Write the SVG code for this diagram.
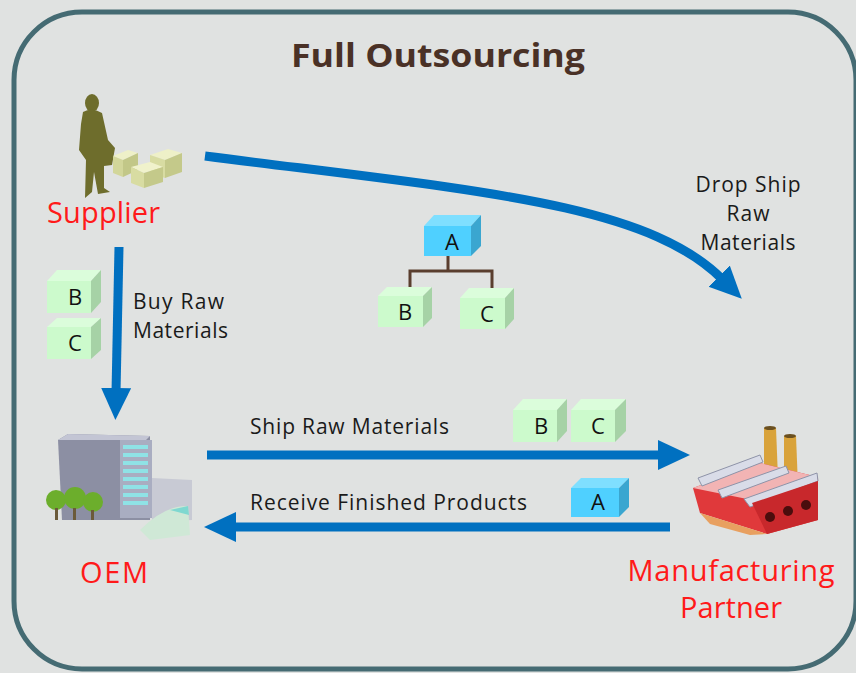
<svg xmlns="http://www.w3.org/2000/svg" width="856" height="673" viewBox="0 0 856 673">
  <style>
    .lbl { font-family: "Open Sans", "Noto Sans", sans-serif; font-size: 21px; fill: #1a1a1a; }
    .name { font-family: "Open Sans", "Noto Sans", sans-serif; font-size: 29px; fill: #ff1a1a; }
    .cube { font-family: "Open Sans", "Noto Sans", sans-serif; font-size: 22px; fill: #111; text-anchor: middle; }
    .flow { fill: none; stroke: #0070c0; stroke-width: 9; }
    .gf { fill: #ccfacc; } .gs { fill: #a6d2a6; } .gt { fill: #dbfddb; }
    .bf { fill: #4fd0ff; } .bs { fill: #3aa6d0; } .bt { fill: #7fdfff; }
    .sky { fill: #d9dce8; } .skyl { stroke: #8e93a8; stroke-width: 1; }
  </style>
  <defs>
    <marker id="head" markerUnits="userSpaceOnUse" markerWidth="34" markerHeight="34" refX="4" refY="15" orient="auto">
      <path d="M0,0 L32,15 L0,30 Z" fill="#0070c0"/>
    </marker>
  </defs>

  <!-- background and frame -->
  <rect x="0" y="0" width="856" height="673" fill="#e0e2e1"/>
  <rect x="14" y="12" width="842" height="657" rx="68" ry="68" fill="#e0e2e1" stroke="#456b73" stroke-width="5"/>

  <text x="438" y="67" text-anchor="middle" font-family="'Open Sans', 'Noto Sans', sans-serif" font-weight="bold" font-size="32" fill="#4a3126" textLength="294" lengthAdjust="spacingAndGlyphs">Full Outsourcing</text>

  <!-- connectors -->
  <g id="connectors">
    <path class="flow" d="M205,156 C 470,190 645,202 722,279" marker-end="url(#head)"/>
    <path class="flow" d="M119,247 L116,392" marker-end="url(#head)"/>
    <path class="flow" d="M207,455 L662,455" marker-end="url(#head)"/>
    <path class="flow" d="M670,527 L232,527" marker-end="url(#head)"/>
    <text class="lbl" x="133" y="309" textLength="91">Buy Raw</text>
    <text class="lbl" x="133" y="338" textLength="95">Materials</text>
    <text class="lbl" x="748" y="192" text-anchor="middle" textLength="105">Drop Ship</text>
    <text class="lbl" x="748" y="221" text-anchor="middle" textLength="43">Raw</text>
    <text class="lbl" x="748" y="250" text-anchor="middle" textLength="95">Materials</text>
    <text class="lbl" x="250" y="434" textLength="199">Ship Raw Materials</text>
    <text class="lbl" x="250" y="510" textLength="277">Receive Finished Products</text>
  </g>

  <!-- supplier -->
  <g id="supplier">
    <g fill="#6e6d2c">
      <ellipse cx="92" cy="103" rx="7" ry="9"/>
      <path d="M83,112 Q92,107 102,113 L108,140 L115,148 L112,165 L104,166 L104,188 L110,192 L98,194 L94,172 L92,192 L85,198 L86,160 L79,150 L81,124 Z"/>
    </g>
    <g>
      <path d="M113,156 L128,150 L138,153 L123,160 Z" fill="#eef0c8"/>
      <path d="M113,156 L123,160 L123,177 L113,173 Z" fill="#d2d69a"/>
      <path d="M123,160 L138,153 L138,170 L123,177 Z" fill="#c2c788"/>
      <path d="M150,155 L168,149 L182,153 L165,160 Z" fill="#eef0c8"/>
      <path d="M150,155 L165,160 L165,178 L150,173 Z" fill="#d8dca2"/>
      <path d="M165,160 L182,153 L182,172 L165,178 Z" fill="#c4c98a"/>
      <path d="M131,167 L150,162 L163,167 L144,173 Z" fill="#f0f2cc"/>
      <path d="M131,167 L144,173 L144,188 L131,183 Z" fill="#d8dca2"/>
      <path d="M144,173 L163,167 L163,182 L144,188 Z" fill="#c4c98a"/>
    </g>
    <text class="name" x="47" y="223" textLength="113">Supplier</text>
  </g>

  <!-- material tree -->
  <g id="bom">
    <path d="M448,256 L448,271 M410,287 L410,271 L492,271 L492,289" fill="none" stroke="#5a3e2e" stroke-width="3"/>
    <g id="bom-a">
      <path class="bt" d="M424,226 L434,215 L481,215 L471,226 Z"/>
      <path class="bs" d="M471,226 L481,215 L481,246 L471,256 Z"/>
      <rect class="bf" x="424" y="226" width="47" height="30"/>
      <text class="cube" x="452" y="250">A</text>
    </g>
    <g id="bom-b">
      <path class="gt" d="M378,296 L387,287 L432,287 L423,296 Z"/>
      <path class="gs" d="M423,296 L432,287 L432,318 L423,327 Z"/>
      <rect class="gf" x="378" y="296" width="45" height="31"/>
      <text class="cube" x="405" y="320">B</text>
    </g>
    <g id="bom-c">
      <path class="gt" d="M460,298 L469,288 L514,288 L505,298 Z"/>
      <path class="gs" d="M505,298 L514,288 L514,319 L505,329 Z"/>
      <rect class="gf" x="460" y="298" width="45" height="31"/>
      <text class="cube" x="487" y="322">C</text>
    </g>
  </g>

  <!-- parts bought from supplier -->
  <g id="buy-parts">
    <g>
      <path class="gt" d="M47,281 L57,270 L101,270 L91,281 Z"/>
      <path class="gs" d="M91,281 L101,270 L101,302 L91,313 Z"/>
      <rect class="gf" x="47" y="281" width="44" height="32"/>
      <text class="cube" x="75" y="305">B</text>
    </g>
    <g>
      <path class="gt" d="M47,327 L57,318 L101,318 L91,327 Z"/>
      <path class="gs" d="M91,327 L101,318 L101,350 L91,359 Z"/>
      <rect class="gf" x="47" y="327" width="44" height="32"/>
      <text class="cube" x="75" y="351">C</text>
    </g>
  </g>

  <!-- parts shipped to partner -->
  <g id="ship-parts">
    <g>
      <path class="gt" d="M513,410 L523,399 L567,399 L557,410 Z"/>
      <path class="gs" d="M557,410 L567,399 L567,431 L557,442 Z"/>
      <rect class="gf" x="513" y="410" width="44" height="32"/>
      <text class="cube" x="541" y="434">B</text>
    </g>
    <g>
      <path class="gt" d="M571,410 L581,399 L626,399 L615,410 Z"/>
      <path class="gs" d="M615,410 L626,399 L626,431 L615,442 Z"/>
      <rect class="gf" x="571" y="410" width="44" height="32"/>
      <text class="cube" x="598" y="434">C</text>
    </g>
  </g>

  <!-- finished product returned -->
  <g id="product">
    <path class="bt" d="M571,488 L581,478 L629,478 L619,488 Z"/>
    <path class="bs" d="M619,488 L629,478 L629,507 L619,517 Z"/>
    <rect class="bf" x="571" y="488" width="48" height="29"/>
    <text class="cube" x="598" y="510">A</text>
  </g>

  <!-- OEM -->
  <g id="oem">
    <path d="M58,440 L68,434 L150,436 L150,520 L62,520 Z" fill="#8c8fa3"/>
    <path d="M58,440 L68,434 L150,436 L146,440 Z" fill="#c3c5d4"/>
    <rect x="120" y="440" width="32" height="78" fill="#a9adc1"/>
    <g fill="#8fe2e6">
      <rect x="123" y="445" width="25" height="4"/>
      <rect x="123" y="453" width="25" height="4"/>
      <rect x="123" y="461" width="25" height="4"/>
      <rect x="123" y="469" width="25" height="4"/>
      <rect x="123" y="477" width="25" height="4"/>
      <rect x="123" y="485" width="25" height="4"/>
      <rect x="123" y="493" width="25" height="4"/>
      <rect x="123" y="501" width="25" height="4"/>
    </g>
    <path d="M152,478 L192,480 L192,520 L152,522 Z" fill="#c8cad4"/>
    <path d="M140,530 Q165,505 188,506 L190,535 L150,540 Z" fill="#cfe8d6"/>
    <path d="M170,510 L188,506 L189,515 Z" fill="#7fd8d0"/>
    <g fill="#6cae2c">
      <circle cx="56" cy="500" r="10"/>
      <circle cx="75" cy="498" r="11"/>
      <circle cx="93" cy="502" r="10"/>
    </g>
    <g fill="#6b5a3a">
      <rect x="55" y="508" width="3" height="12"/>
      <rect x="73" y="508" width="3" height="12"/>
      <rect x="91" y="510" width="3" height="10"/>
    </g>
    <text class="name" x="80" y="583" textLength="68">OEM</text>
  </g>

  <!-- manufacturing partner -->
  <g id="partner">
    <!-- chimneys -->
    <path d="M764,428 L776,428 L778,478 L764,478 Z" fill="#d9a33b"/>
    <path d="M784,436 L796,436 L798,486 L784,486 Z" fill="#d9a33b"/>
    <ellipse cx="770" cy="428" rx="6" ry="2" fill="#6b5020"/>
    <ellipse cx="790" cy="436" rx="6" ry="2" fill="#6b5020"/>
    <!-- body -->
    <path d="M693,488 L760,463 L818,477 L818,520 L767,534 L700,513 Z" fill="#e0393b"/>
    <path d="M700,513 L767,534 L750,535 L710,524 Z" fill="#e8a060"/>
    <path d="M693,488 L760,463 L818,477 L752,500 Z" fill="#f2b4b4"/>
    <!-- roof lights -->
    <path class="sky skyl" d="M698,478 L760,455 L763,462 L702,486 Z"/>
    <path class="sky skyl" d="M718,490 L786,466 L789,473 L722,498 Z"/>
    <path class="sky skyl" d="M744,499 L817,473 L818,481 L750,507 Z"/>
    <!-- front with doors -->
    <path d="M752,503 L818,481 L818,520 L767,534 Z" fill="#c8282c"/>
    <g fill="#4a0d0d">
      <ellipse cx="770" cy="517" rx="5" ry="5"/>
      <ellipse cx="788" cy="511" rx="5" ry="5"/>
      <ellipse cx="806" cy="505" rx="5" ry="5"/>
    </g>
    <text class="name" x="731" y="581" text-anchor="middle" textLength="207">Manufacturing</text>
    <text class="name" x="731" y="618" text-anchor="middle" textLength="102">Partner</text>
  </g>
</svg>
